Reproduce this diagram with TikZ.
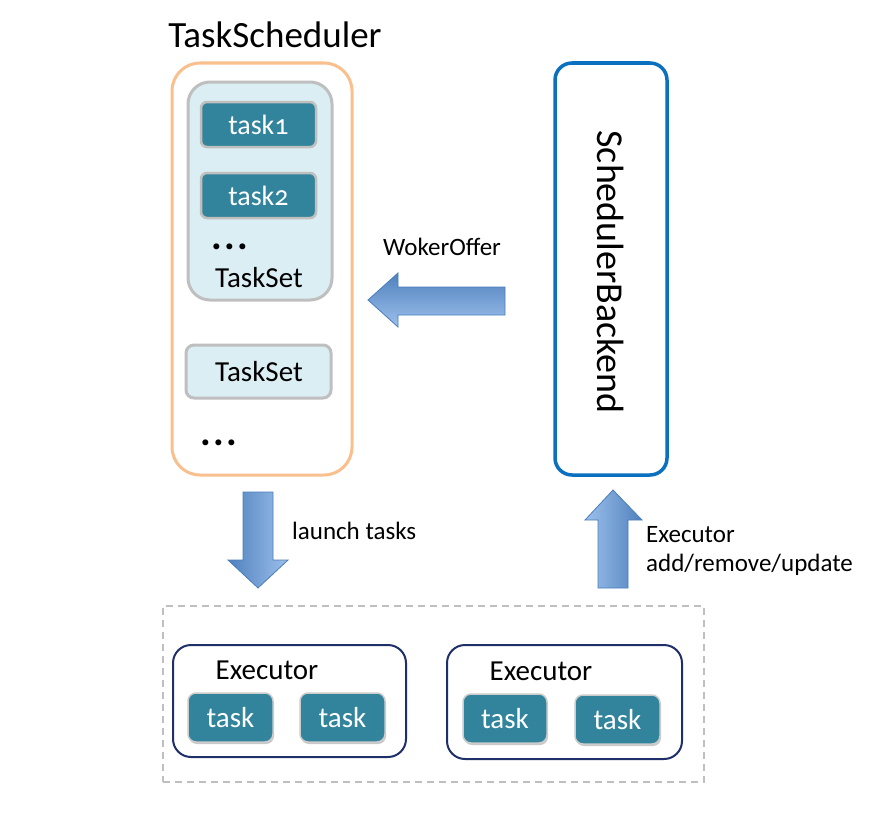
\documentclass[tikz,border=0pt]{standalone}
\usepackage{fontspec}
\setmainfont{Carlito}
\usetikzlibrary{shadows}
\definecolor{peach}{HTML}{F9C08E}
\definecolor{backblue}{HTML}{0B70C0}
\definecolor{setfill}{HTML}{DBEEF4}
\definecolor{setgray}{HTML}{BFBFBF}
\definecolor{tasktel}{HTML}{31849B}
\definecolor{navybox}{HTML}{1F2F6A}
\definecolor{arrdark}{HTML}{4F81BD}
\definecolor{arrlight}{HTML}{9DC0EC}
\definecolor{arredge}{HTML}{4A7EBB}
\tikzset{
  schedbox/.style={draw=peach, line width=3pt, rounded corners=28pt, fill=white, inner sep=0pt},
  backbox/.style={draw=backblue, line width=3.5pt, rounded corners=17pt, fill=white, inner sep=0pt},
  setbox/.style={draw=setgray, line width=3pt, fill=setfill, inner sep=0pt},
  taskbox/.style={draw=setgray, line width=2.5pt, fill=tasktel, rounded corners=6pt, text=white, inner sep=0pt,
     font=\fontsize{28}{32}\selectfont},
  exetask/.style={draw=setgray!80, line width=1.5pt, fill=tasktel, rounded corners=8pt, text=white, inner sep=0pt,
     font=\fontsize{29}{32}\selectfont, drop shadow={shadow xshift=1pt, shadow yshift=-2pt, opacity=0.35, fill=black!60}},
  exebox/.style={draw=navybox, line width=2pt, rounded corners=18pt, fill=white, inner sep=0pt},
  dashbox/.style={draw=setgray, line width=1.6pt, dash pattern=on 7pt off 5pt},
  lbl/.style={inner sep=0pt, font=\fontsize{25}{30}\selectfont},
  bigtxt/.style={inner sep=0pt, font=\fontsize{29}{34}\selectfont},
  dotstxt/.style={inner sep=0pt, font=\fontsize{40}{44}\selectfont\bfseries},
  bluearrow/.style={draw=arredge, line width=0.8pt}
}
\newcommand{\threedots}{.\hspace{2pt}.\hspace{2pt}.}
\begin{document}
\begin{tikzpicture}[x=1pt,y=-1pt]
\useasboundingbox (0,0) rectangle (896,816);
% TaskScheduler
\node[inner sep=0pt, font=\fontsize{37}{44}\selectfont] (title) at (275,35) {TaskScheduler};
\node[schedbox, minimum width=180pt, minimum height=412pt] (sched) at (262,269) {};
\node[setbox, rounded corners=22pt, minimum width=144pt, minimum height=218pt] (set1) at (260,191) {};
\node[taskbox, minimum width=115pt, minimum height=45pt] (t1) at (258.5,124.5) {task{\addfontfeature{Numbers=OldStyle}1}};
\node[taskbox, minimum width=115pt, minimum height=45pt] (t2) at (258.5,195.5) {task{\addfontfeature{Numbers=OldStyle}2}};
\node[dotstxt] (dots1) at (230,247) {\threedots};
\node[bigtxt] (set1lbl) at (259,278) {TaskSet};
\node[setbox, rounded corners=8pt, minimum width=145pt, minimum height=53pt] (set2) at (258.5,371.5) {};
\node[bigtxt] (set2lbl) at (259,372) {TaskSet};
\node[dotstxt] (dots2) at (219,443) {\threedots};
% SchedulerBackend
\node[backbox, minimum width=112pt, minimum height=412pt] (back) at (611,269) {};
\node[inner sep=0pt, rotate=-90, font=\fontsize{38}{44}\selectfont] (backlbl) at (611,272) {SchedulerBackend};
% WokerOffer arrow
\node[lbl] (offer) at (442,247) {WokerOffer};
\shade[bluearrow, top color=arrdark, bottom color=arrlight]
  (505,287) -- (398,287) -- (398,273) -- (368,300) -- (398,327) -- (398,315) -- (505,315) -- cycle;
% launch tasks arrow
\shade[bluearrow, left color=arrdark, right color=arrlight]
  (243,492) -- (273,492) -- (273,560) -- (288,560) -- (258,588) -- (228,560) -- (243,560) -- cycle;
\node[lbl, anchor=west] (launch) at (292,531) {launch tasks};
% executor update arrow
\shade[bluearrow, left color=arrlight, right color=arrdark]
  (598,588) -- (628,588) -- (628,520) -- (642,520) -- (613,490) -- (585,520) -- (598,520) -- cycle;
\node[lbl, anchor=west] (upd1) at (646,535) {Executor};
\node[lbl, anchor=west] (upd2) at (646,565) {add/remove/update};
% executors
\node[dashbox, minimum width=541pt, minimum height=176pt, inner sep=0pt] (cluster) at (433.5,694) {};
\node[exebox, minimum width=233pt, minimum height=112pt] (ex1) at (289.5,701) {};
\node[bigtxt] (ex1lbl) at (267,670) {Executor};
\node[exetask, minimum width=85pt, minimum height=49pt] (e1t1) at (230.5,717.5) {task};
\node[exetask, minimum width=85pt, minimum height=49pt] (e1t2) at (342.5,717.5) {task};
\node[exebox, minimum width=235pt, minimum height=114pt] (ex2) at (564.5,702) {};
\node[bigtxt] (ex2lbl) at (541,671) {Executor};
\node[exetask, minimum width=84pt, minimum height=49pt] (e2t1) at (505,718.5) {task};
\node[exetask, minimum width=85pt, minimum height=49pt] (e2t2) at (617.5,719.5) {task};
\end{tikzpicture}
\end{document}
